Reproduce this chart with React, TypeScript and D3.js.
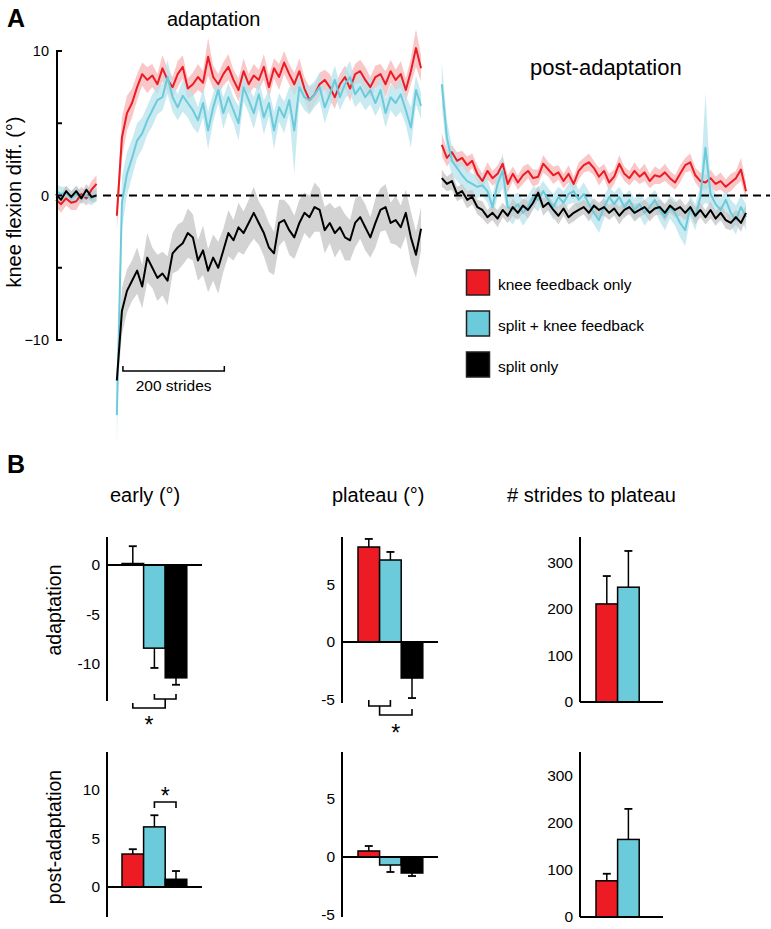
import React from "react";
import * as d3 from "d3";

const FONT = "'Liberation Sans', Arial, Helvetica, sans-serif";

// ---------- groups ----------
const groups = ["knee feedback only", "split + knee feedback", "split only"];
const groupColors = ["#ED1C24", "#6CCBDA", "#000000"];
const bandColors = ["#F7B4B6", "#B8E3EC", "#C4C4C4"];

// ---------- Panel A : stride-by-stride data (sampled every 10 strides) ----------
const STRIDE_STEP = 10;
const segmentStarts = [0, 120, 761]; // baseline, adaptation, post-adaptation
const yTicksA = [-10, -5, 0, 5, 10];
const yTickLabelsA = ["\u221210", "", "0", "", "10"];

const redBase = [-0.3, -0.6, -0.2, -0.5, -0.4, 0.1, -0.2, 0.4, 0.8];
const redBaseSem = [0.5, 0.6, 0.5, 0.5, 0.6, 0.5, 0.5, 0.6, 0.6];
const cyanBase = [0.3, 0.1, 0.2, -0.2, 0.1, -0.1, 0.0, -0.2, 0.1];
const cyanBaseSem = [0.5, 0.5, 0.4, 0.5, 0.5, 0.4, 0.5, 0.5, 0.5];
const blackBase = [0.1, -0.3, 0.3, -0.1, 0.3, -0.2, 0.4, -0.1, 0.0];
const blackBaseSem = [0.4, 0.4, 0.4, 0.4, 0.4, 0.4, 0.4, 0.4, 0.4];

const redAdapt = [
  -1.4, 4.0, 5.7, 6.4, 7.5, 8.4, 8.0, 8.3, 7.7, 8.8,
  8.0, 7.5, 8.4, 8.9, 7.4, 7.7, 8.2, 7.8, 9.6, 8.2,
  7.7, 8.4, 8.9, 8.0, 7.3, 8.6, 7.7, 8.3, 8.0, 8.9,
  7.5, 8.8, 8.2, 9.2, 8.4, 7.7, 8.6, 7.4, 6.6, 7.0,
  7.7, 8.0, 7.5, 6.8, 7.7, 8.2, 7.4, 8.4, 8.6, 8.0,
  7.5, 8.2, 8.4, 7.7, 8.6, 8.0, 8.4, 7.3, 8.6, 10.2,
  8.8,
];
const redAdaptSem = [
  1.0, 1.4, 1.2, 1.0, 0.9, 0.8, 0.9, 0.8, 0.7, 0.9,
  0.8, 0.7, 0.9, 0.8, 0.7, 0.8, 0.9, 0.8, 1.3, 0.8,
  0.7, 0.8, 0.9, 0.7, 0.8, 0.9, 0.7, 0.8, 0.7, 0.9,
  0.8, 0.7, 0.9, 0.8, 0.7, 0.8, 0.9, 0.8, 0.9, 0.7,
  0.8, 0.7, 0.9, 0.8, 0.7, 0.8, 0.9, 0.7, 0.8, 0.9,
  0.7, 0.8, 0.7, 0.9, 0.8, 0.7, 0.9, 0.8, 0.9, 1.3,
  0.9,
];
const cyanAdapt = [
  -15.2, -0.5, 1.5, 2.6, 3.8, 4.3, 5.2, 5.9, 6.6, 6.8, 8.2,
  6.8, 6.1, 6.9, 6.4, 5.9, 5.2, 6.4, 4.5, 6.1,
  7.3, 5.7, 6.8, 5.9, 5.0, 7.5, 6.6, 5.7, 7.0, 5.4,
  6.4, 4.5, 6.1, 5.4, 6.6, 4.5, 7.5, 6.8, 6.6, 7.0,
  7.5, 6.1, 7.0, 8.0, 6.8, 7.7, 8.2, 7.0, 7.5, 6.8,
  7.3, 6.4, 7.3, 5.7, 6.8, 6.4, 7.0, 5.9, 4.7, 7.3, 6.2,
];
const cyanAdaptSem = [
  2.0, 1.8, 1.5, 1.3, 1.2, 1.1, 1.0, 1.1, 1.0, 0.9, 1.2,
  1.0, 0.9, 1.1, 1.0, 1.2, 0.9, 1.0, 1.3, 1.0,
  0.9, 1.1, 1.0, 0.9, 1.2, 1.0, 0.9, 1.1, 1.0, 1.2,
  0.9, 1.3, 1.0, 1.1, 0.9, 3.0, 1.0, 0.9, 1.0, 0.9,
  1.0, 1.1, 0.9, 1.0, 0.9, 1.0, 1.1, 0.9, 1.0, 0.9,
  1.0, 0.9, 1.1, 1.0, 0.9, 1.0, 1.2, 1.0, 1.4, 1.0, 0.9,
];
const blackAdapt = [
  -12.8, -8.0, -6.6, -5.9, -5.2, -6.3, -4.3, -5.0, -5.7, -5.4,
  -5.9, -4.0, -3.6, -3.3, -2.6, -2.9, -4.5, -3.8, -5.2, -4.3,
  -5.0, -3.8, -2.6, -3.1, -2.2, -2.6, -1.9, -1.2, -1.9, -2.6,
  -3.6, -4.0, -1.9, -1.7, -2.4, -2.9, -1.9, -1.2, -1.5, -0.8,
  -1.0, -2.4, -1.9, -2.6, -2.2, -2.9, -3.1, -1.9, -1.5, -2.2,
  -2.9, -1.9, -1.0, -0.8, -1.9, -1.7, -2.2, -1.2, -2.9, -4.1, -2.3,
];
const blackAdaptSem = [
  1.0, 1.6, 1.5, 1.4, 1.6, 1.5, 1.7, 1.4, 1.6, 1.5,
  1.7, 1.4, 1.6, 1.5, 1.7, 1.6, 1.4, 1.7, 1.5, 1.6,
  1.8, 1.5, 1.6, 1.4, 1.7, 1.5, 1.6, 1.8, 1.5, 1.6,
  1.7, 1.5, 1.6, 1.4, 1.7, 1.5, 1.6, 1.4, 1.5, 1.7,
  1.5, 1.6, 1.4, 1.7, 1.5, 1.6, 1.4, 1.7, 1.5, 1.6,
  1.4, 1.7, 1.5, 1.6, 1.4, 1.7, 1.5, 1.6, 1.8, 1.6, 1.5,
];

const redPost = [
  3.5, 2.6, 3.0, 2.4, 2.6, 2.1, 2.4, 1.5, 1.0, 1.7,
  1.2, 1.5, 2.2, 0.8, 1.5, 0.9, 1.4, 1.7, 1.2, 1.3,
  2.2, 1.8, 1.4, 1.6, 1.0, 1.5, 0.8, 1.7, 2.1, 2.3,
  1.9, 1.3, 1.7, 0.9, 1.3, 2.2, 1.5, 1.2, 1.7, 1.3,
  1.6, 1.0, 1.4, 1.3, 1.6, 1.2, 0.9, 1.5, 2.1, 2.3,
  1.4, 1.0, 0.9, 1.2, 0.8, 1.0, 0.6, 0.9, 1.2, 1.8, 0.3,
];
const redPostSem = [
  0.8, 0.6, 0.5, 0.6, 0.5, 0.6, 0.5, 0.6, 0.5, 0.6,
  0.5, 0.6, 0.5, 0.6, 0.5, 0.5, 0.6, 0.5, 0.6, 0.5,
  0.6, 0.5, 0.6, 0.5, 0.5, 0.6, 0.5, 0.6, 0.5, 0.6,
  0.5, 0.6, 0.5, 0.6, 0.5, 0.6, 0.5, 0.5, 0.6, 0.5,
  0.6, 0.5, 0.6, 0.5, 0.6, 0.5, 0.5, 0.6, 0.5, 0.6,
  0.5, 0.6, 0.5, 0.6, 0.5, 0.6, 0.5, 0.6, 0.5, 0.8, 0.6,
];
const cyanPost = [
  7.7, 4.0, 2.4, 1.9, 1.4, 1.0, 0.8, 0.6, 0.7, 0.3,
  -0.8, 0.8, 1.7, -0.8, -1.0, -0.6, -1.2, -0.8, -0.1, -0.3,
  0.3, -0.3, -0.8, -0.1, -0.5, 0.1, 0.3, -0.3, 0.1, -0.6,
  -1.2, -1.7, -0.8, -0.1, -0.6, -0.1, -0.8, -0.3, -1.0, -0.6,
  -1.2, -0.8, -0.3, -1.0, -1.5, -0.8, -1.2, -1.9, -2.4, -0.8,
  -1.5, -0.1, 3.3, 0.1, -0.6, -1.0, -0.3, -1.2, -1.7, -0.8, -1.5,
];
const cyanPostSem = [
  1.5, 1.2, 1.0, 0.9, 0.8, 0.8, 0.7, 0.8, 0.7, 0.8,
  0.8, 0.9, 1.2, 0.8, 1.0, 0.8, 0.9, 0.8, 0.7, 0.8,
  0.7, 0.8, 0.9, 0.7, 0.8, 0.7, 0.8, 0.7, 0.8, 0.9,
  0.8, 0.9, 0.8, 0.7, 0.8, 0.7, 0.8, 0.7, 0.8, 0.8,
  0.9, 0.8, 0.7, 0.8, 0.9, 0.8, 0.9, 1.0, 1.1, 0.8,
  0.9, 0.8, 3.8, 0.8, 0.7, 0.8, 0.7, 0.9, 1.0, 0.8, 0.9,
];
const blackPost = [
  1.2, 0.8, 1.0, 0.1, 0.3, -0.3, -0.1, -0.8, -1.0, -1.5,
  -1.2, -1.6, -1.0, -1.4, -0.8, -1.2, -0.7, -1.0, -0.5, 0.2,
  -0.8, -0.5, -1.0, -1.4, -0.9, -1.5, -1.2, -1.0, -0.8, -1.2,
  -0.7, -1.0, -0.8, -1.2, -0.9, -1.4, -1.0, -0.8, -1.2, -1.0,
  -0.8, -1.2, -0.9, -0.8, -1.2, -0.7, -1.0, -0.8, -1.2, -0.8,
  -1.4, -1.0, -1.5, -1.0, -1.6, -1.2, -1.7, -1.9, -1.5, -1.9, -1.2,
];
const blackPostSem = [
  0.6, 0.5, 0.6, 0.5, 0.5, 0.6, 0.5, 0.5, 0.6, 0.5,
  0.5, 0.6, 0.5, 0.5, 0.6, 0.5, 0.5, 0.6, 0.5, 0.5,
  0.6, 0.5, 0.5, 0.6, 0.5, 0.5, 0.6, 0.5, 0.5, 0.6,
  0.5, 0.5, 0.6, 0.5, 0.5, 0.6, 0.5, 0.5, 0.6, 0.5,
  0.5, 0.6, 0.5, 0.5, 0.6, 0.5, 0.5, 0.6, 0.5, 0.5,
  0.6, 0.5, 0.5, 0.6, 0.5, 0.5, 0.6, 0.5, 0.5, 0.6, 0.5,
];

// ---------- Panel B : summary bars ----------
const earlyAdaptMean = [0.15, -8.4, -11.4];
const earlyAdaptSem = [1.75, 2.0, 0.7];
const earlyPostMean = [3.4, 6.2, 0.8];
const earlyPostSem = [0.5, 1.2, 0.85];
const plateauAdaptMean = [8.26, 7.13, -3.13];
const plateauAdaptSem = [0.7, 0.7, 1.74];
const plateauPostMean = [0.52, -0.69, -1.38];
const plateauPostSem = [0.43, 0.6, 0.26];
const stridesAdaptMean = [211, 247];
const stridesAdaptSem = [60, 78];
const stridesPostMean = [77, 165];
const stridesPostSem = [15, 65];

const earlyAdaptTicks = [0, -5, -10];
const earlyPostTicks = [0, 5, 10];
const plateauTicks = [5, 0, -5];
const stridesTicks = [0, 100, 200, 300];

const columnTitles = ["early (\u00b0)", "plateau (\u00b0)", "# strides to plateau"];
const rowTitles = ["adaptation", "post-adaptation"];

// ---------- layout ----------
const BAR_W = 21.6;

type Bracket = { a: number | string; b: number | string; y: number; ta: number; tb: number };
type Panel = {
  axisX: number; top: number; bottom: number; domain: [number, number];
  ticks: number[]; mean: number[]; sem: number[]; barX0: number; zeroEnd: number;
  brackets?: Bracket[]; star?: { y: number; between: [number | string, number | string] };
};

const panels: Panel[] = [
  {
    axisX: 107, top: 537, bottom: 701, domain: [-13.74, 2.83], ticks: earlyAdaptTicks,
    mean: earlyAdaptMean, sem: earlyAdaptSem, barX0: 122, zeroEnd: 202,
    brackets: [
      { a: 1, b: 2, y: 699, ta: 694, tb: 694 },
      { a: 0, b: "m0", y: 708, ta: 703, tb: 699 },
    ],
    star: { y: 720, between: [0, "m0"] },
  },
  {
    axisX: 107, top: 752, bottom: 917, domain: [-3.09, 13.92], ticks: earlyPostTicks,
    mean: earlyPostMean, sem: earlyPostSem, barX0: 122, zeroEnd: 202,
    brackets: [{ a: 1, b: 2, y: 802, ta: 808, tb: 808 }],
    star: { y: 791, between: [1, 2] },
  },
  {
    axisX: 342, top: 537, bottom: 703, domain: [-5.3, 9.13], ticks: plateauTicks,
    mean: plateauAdaptMean, sem: plateauAdaptSem, barX0: 358, zeroEnd: 438,
    brackets: [
      { a: 0, b: 1, y: 706, ta: 700, tb: 700 },
      { a: "m0", b: 2, y: 715, ta: 706, tb: 709 },
    ],
    star: { y: 728, between: ["m0", 2] },
  },
  {
    axisX: 342, top: 752, bottom: 917, domain: [-5.17, 9.05], ticks: plateauTicks,
    mean: plateauPostMean, sem: plateauPostSem, barX0: 358, zeroEnd: 438,
  },
  {
    axisX: 580, top: 537, bottom: 702, domain: [0, 355], ticks: stridesTicks,
    mean: stridesAdaptMean, sem: stridesAdaptSem, barX0: 596, zeroEnd: 663,
  },
  {
    axisX: 580, top: 752, bottom: 917, domain: [0, 351], ticks: stridesTicks,
    mean: stridesPostMean, sem: stridesPostSem, barX0: 596, zeroEnd: 663,
  },
];

function fmtTick(v: number) {
  return String(v); // hyphen minus as in the figure
}

function BarPanel({ p }: { p: Panel }) {
  const y = d3.scaleLinear().domain(p.domain).range([p.bottom, p.top]);
  const idx = d3.range(p.mean.length).map(String);
  const x = d3.scaleBand().domain(idx).range([p.barX0, p.barX0 + BAR_W * p.mean.length]).padding(0);
  const center = (i: number) => (x(String(i)) as number) + x.bandwidth() / 2;
  const y0 = y(0);
  const mids: number[] = [];
  const resolve = (k: number | string) =>
    typeof k === "number" ? center(k) : mids[parseInt(k.slice(1), 10)];
  const bracketEls: React.ReactNode[] = [];
  (p.brackets || []).forEach((b, i) => {
    const xa = resolve(b.a);
    const xb = resolve(b.b);
    mids.push((xa + xb) / 2);
    bracketEls.push(
      <path
        key={"br" + i}
        d={`M${xa},${b.ta}L${xa},${b.y}L${xb},${b.y}L${xb},${b.tb}`}
        fill="none"
        stroke="#000"
        strokeWidth={1.6}
      />
    );
  });
  let starEl: React.ReactNode = null;
  if (p.star) {
    const sx = (resolve(p.star.between[0]) + resolve(p.star.between[1])) / 2;
    starEl = (
      <text x={sx} y={p.star.y + 13} textAnchor="middle" fontSize={23}>
        *
      </text>
    );
  }
  return (
    <g>
      {p.mean.map((v, i) => {
        const bx = x(String(i)) as number;
        const top = y(Math.max(0, v));
        const bot = y(Math.min(0, v));
        const cx = center(i);
        const ye = y(v + (v >= 0 ? 1 : -1) * p.sem[i]);
        return (
          <g key={i}>
            <line x1={cx} x2={cx} y1={y(v)} y2={ye} stroke="#000" strokeWidth={1.5} />
            <line x1={cx - 4} x2={cx + 4} y1={ye} y2={ye} stroke="#000" strokeWidth={1.8} />
            <rect
              x={bx}
              y={top}
              width={x.bandwidth()}
              height={Math.max(0.5, bot - top)}
              fill={groupColors[i]}
              stroke="#000"
              strokeWidth={1.5}
            />
          </g>
        );
      })}
      <line x1={p.axisX} x2={p.axisX} y1={p.top} y2={p.bottom} stroke="#000" strokeWidth={2} />
      <line x1={p.axisX} x2={p.zeroEnd} y1={y0} y2={y0} stroke="#000" strokeWidth={2} />
      {p.ticks.map((t) => (
        <text key={t} x={p.axisX - 7} y={y(t)} dy="0.35em" textAnchor="end" fontSize={15.5}>
          {fmtTick(t)}
        </text>
      ))}
      {bracketEls}
      {starEl}
    </g>
  );
}

type Pt = { s: number; m: number; e: number };

export default function App() {
  const xA = d3.scaleLinear().domain([0, 1000]).range([56, 563]);
  const yA = d3.scaleLinear().domain([-10, 10]).range([340, 51]);

  const seriesA = [
    { segs: [[redBase, redBaseSem], [redAdapt, redAdaptSem], [redPost, redPostSem]] },
    { segs: [[cyanBase, cyanBaseSem], [cyanAdapt, cyanAdaptSem], [cyanPost, cyanPostSem]] },
    { segs: [[blackBase, blackBaseSem], [blackAdapt, blackAdaptSem], [blackPost, blackPostSem]] },
  ];

  const area = d3
    .area<Pt>()
    .x((d) => xA(d.s))
    .y0((d) => yA(d.m - d.e))
    .y1((d) => yA(d.m + d.e));
  const line = d3
    .line<Pt>()
    .x((d) => xA(d.s))
    .y((d) => yA(d.m));

  const segPoints = seriesA.map((ser) =>
    ser.segs.map(([means, sems], j) =>
      means.map((m, i) => ({ s: segmentStarts[j] + i * STRIDE_STEP, m, e: sems[i] }))
    )
  );

  const scaleBarStart = 132;
  const scaleBarLen = 200;

  return (
    <svg
      width={771}
      height={929}
      viewBox="0 0 771 929"
      style={{ position: "absolute", left: 0, top: 0, background: "#fff" }}
      fontFamily={FONT}
    >
      <rect width={771} height={929} fill="#fff" />

      {/* ---------- Panel A ---------- */}
      <text x={7} y={27} fontSize={25} fontWeight="bold">A</text>
      <text x={167} y={26} fontSize={20}>adaptation</text>
      <text x={530} y={75} fontSize={22}>post-adaptation</text>

      {/* bands */}
      {segPoints.map((segs, si) =>
        segs.map((pts, j) => (
          <path key={`band${si}-${j}`} d={area(pts) || ""} fill={bandColors[si]} fillOpacity={0.75} />
        ))
      )}
      {/* zero dashed line */}
      <line x1={103} x2={770} y1={yA(0)} y2={yA(0)} stroke="#000" strokeWidth={1.8} strokeDasharray="8,5" />
      {/* mean lines */}
      {segPoints.map((segs, si) =>
        segs.map((pts, j) => (
          <path
            key={`line${si}-${j}`}
            d={line(pts) || ""}
            fill="none"
            stroke={groupColors[si]}
            strokeWidth={2}
            strokeLinejoin="round"
          />
        ))
      )}

      {/* y axis A */}
      <line x1={57} x2={57} y1={yA(10)} y2={yA(-10)} stroke="#000" strokeWidth={2} />
      {yTicksA.map((t, i) => (
        <g key={t}>
          <line x1={56} x2={62} y1={yA(t)} y2={yA(t)} stroke="#000" strokeWidth={2} />
          {yTickLabelsA[i] && (
            <text x={49} y={yA(t)} dy="0.35em" textAnchor="end" fontSize={14.5}>
              {yTickLabelsA[i]}
            </text>
          )}
        </g>
      ))}
      <text transform={`translate(21,202) rotate(-90)`} textAnchor="middle" fontSize={20}>
        knee flexion diff. (°)
      </text>

      {/* scale bar */}
      <path
        d={`M${xA(scaleBarStart)},366L${xA(scaleBarStart)},371L${xA(scaleBarStart + scaleBarLen)},371L${xA(
          scaleBarStart + scaleBarLen
        )},366`}
        fill="none"
        stroke="#000"
        strokeWidth={1.5}
      />
      <text x={(xA(scaleBarStart) + xA(scaleBarStart + scaleBarLen)) / 2} y={391} textAnchor="middle" fontSize={15.5}>
        200 strides
      </text>

      {/* legend */}
      {groups.map((g, i) => (
        <g key={g}>
          <rect
            x={466.5}
            y={270 + i * 41}
            width={23}
            height={25}
            fill={groupColors[i]}
            stroke="#231F20"
            strokeWidth={1.5}
          />
          <text x={498} y={290 + i * 41} fontSize={15.5}>
            {g}
          </text>
        </g>
      ))}

      {/* ---------- Panel B ---------- */}
      <text x={7} y={473} fontSize={25} fontWeight="bold">B</text>
      <text x={110} y={502} fontSize={20}>{columnTitles[0]}</text>
      <text x={332} y={502} fontSize={20}>{columnTitles[1]}</text>
      <text x={507} y={502} fontSize={20}>{columnTitles[2]}</text>
      <text transform="translate(61,610) rotate(-90)" textAnchor="middle" fontSize={19.5}>
        {rowTitles[0]}
      </text>
      <text transform="translate(61,837) rotate(-90)" textAnchor="middle" fontSize={19.5}>
        {rowTitles[1]}
      </text>
      {panels.map((p, i) => (
        <BarPanel key={i} p={p} />
      ))}
    </svg>
  );
}
